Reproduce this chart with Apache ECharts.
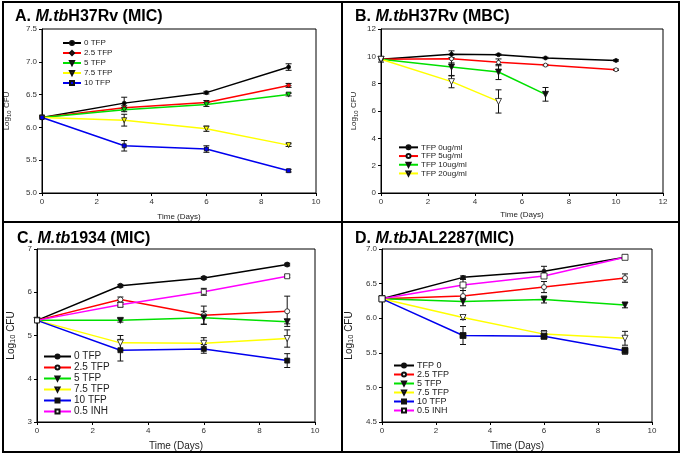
<!DOCTYPE html>
<html>
<head>
<meta charset="utf-8">
<title>TFP kill curves</title>
<script src="https://cdn.jsdelivr.net/npm/echarts@6/dist/echarts.min.js"></script>
<style>
  html, body { margin: 0; padding: 0; background: #fff; }
  #main { width: 683px; height: 456px; }
</style>
</head>
<body>
<div id="main"></div>
<script>
// ---- A. M.tb H37Rv (MIC) ----
var aDays = [0, 3, 6, 9];
var aTfp0 = [6.15, 6.37, 6.53, 6.92];
var aTfp25 = [6.15, 6.30, 6.38, 6.64];
var aTfp5 = [6.15, 6.27, 6.35, 6.50];
var aTfp75 = [6.15, 6.11, 5.98, 5.73];
var aTfp10 = [6.15, 5.72, 5.67, 5.34];
var aErr0 = [0.02, 0.09, 0.02, 0.05];
var aErr25 = [0, 0.03, 0.03, 0.03];
var aErr5 = [0, 0.03, 0.03, 0.02];
var aErr75 = [0, 0.09, 0.04, 0.02];
var aErr10 = [0, 0.08, 0.05, 0.02];

// ---- B. M.tb H37Rv (MBC) ----
var bDays0 = [0, 3, 5, 7, 10];
var bDays10 = [0, 3, 5, 7];
var bDays20 = [0, 3, 5];
var bTfp0 = [9.78, 10.15, 10.12, 9.88, 9.70];
var bTfp5 = [9.78, 9.82, 9.56, 9.36, 9.02];
var bTfp10 = [9.78, 9.22, 8.85, 7.22];
var bTfp20 = [9.78, 8.15, 6.70];
var bErr0 = [0.2, 0.25, 0.05, 0.05, 0.05];
var bErr5 = [0, 0.3, 0.25, 0.05, 0.05];
var bErr10 = [0, 0.65, 0.55, 0.5];
var bErr20 = [0, 0.45, 0.85];

// ---- C. M.tb 1934 (MIC) ----
var cDays = [0, 3, 6, 9];
var cTfp0 = [5.35, 6.15, 6.33, 6.64];
var cTfp25 = [5.35, 5.83, 5.47, 5.56];
var cTfp5 = [5.35, 5.35, 5.41, 5.32];
var cTfp75 = [5.35, 4.83, 4.82, 4.93];
var cTfp10 = [5.35, 4.66, 4.69, 4.42];
var cInh = [5.35, 5.71, 6.01, 6.37];
var cErr0 = [0, 0.03, 0.03, 0.03];
var cErr25 = [0, 0.06, 0.21, 0.35];
var cErr5 = [0, 0.04, 0.15, 0.05];
var cErr75 = [0, 0.17, 0.13, 0.2];
var cErr10 = [0, 0.25, 0.1, 0.16];
var cErrInh = [0, 0.05, 0.08, 0.03];

// ---- D. M.tb JAL2287 (MIC) ----
var dDays = [0, 3, 6, 9];
var dTfp0 = [6.28, 6.59, 6.68, 6.88];
var dTfp25 = [6.28, 6.32, 6.45, 6.58];
var dTfp5 = [6.28, 6.24, 6.27, 6.19];
var dTfp75 = [6.28, 6.01, 5.77, 5.71];
var dTfp10 = [6.28, 5.75, 5.74, 5.53];
var dInh = [6.28, 6.48, 6.61, 6.88];
var dErr0 = [0, 0.02, 0.07, 0.02];
var dErr25 = [0, 0.08, 0.08, 0.06];
var dErr5 = [0, 0.06, 0.05, 0.04];
var dErr75 = [0, 0.03, 0.05, 0.1];
var dErr10 = [0, 0.13, 0.04, 0.05];
var dErrInh = [0, 0.08, 0.03, 0.03];

var BLACK = '#000000', RED = '#ff0000', GREEN = '#00e000', YELLOW = '#ffff00', BLUE = '#0000ee', MAGENTA = '#ff00ff';
var FONT = 'Liberation Sans';

// 线条系列
function line(panel, name, idx, xs, ys, color, sym, fill, rot, size) {
  return {
    type: 'line', name: panel + '|' + name,
    xAxisIndex: idx, yAxisIndex: idx,
    data: xs.map(function (x, i) { return [x, ys[i]]; }),
    symbol: sym, symbolSize: size || 5, symbolRotate: rot || 0,
    showAllSymbol: true,
    lineStyle: { color: color, width: 1.5 },
    itemStyle: { color: fill, borderColor: '#111', borderWidth: 0.8 },
    z: 3
  };
}

// 误差线（自定义系列）
function errBars(idx, xs, ys, es) {
  return {
    type: 'custom', xAxisIndex: idx, yAxisIndex: idx, silent: true, z: 2,
    data: xs.map(function (x, i) { return [x, ys[i], es[i]]; }).filter(function (d) { return d[2] > 0; }),
    renderItem: function (params, api) {
      var x = api.value(0), y = api.value(1), e = api.value(2);
      var hi = api.coord([x, y + e]), lo = api.coord([x, y - e]);
      var st = { stroke: '#111', lineWidth: 1 };
      return { type: 'group', children: [
        { type: 'line', shape: { x1: hi[0], y1: hi[1], x2: lo[0], y2: lo[1] }, style: st },
        { type: 'line', shape: { x1: hi[0] - 3, y1: hi[1], x2: hi[0] + 3, y2: hi[1] }, style: st },
        { type: 'line', shape: { x1: lo[0] - 3, y1: lo[1], x2: lo[0] + 3, y2: lo[1] }, style: st }
      ] };
    }
  };
}

function xAx(idx, max, fs, gap) {
  return {
    type: 'value', gridIndex: idx, min: 0, max: max, interval: 2,
    name: 'Time (Days)', nameLocation: 'middle', nameGap: gap,
    nameTextStyle: { fontFamily: FONT, fontSize: fs, color: '#222' },
    axisLine: { lineStyle: { color: '#000' } },
    axisTick: { inside: false, length: 3, lineStyle: { color: '#000' } },
    axisLabel: { fontFamily: FONT, fontSize: 8, color: '#333', margin: 5 },
    splitLine: { show: false }
  };
}

function yAx(idx, min, max, step, dec, fs, gap) {
  return {
    type: 'value', gridIndex: idx, min: min, max: max, interval: step,
    name: '{a|Log}{s|10}{a| CFU}', nameLocation: 'middle', nameGap: gap,
    nameTextStyle: { rich: {
      a: { fontFamily: FONT, fontSize: fs, color: '#222' },
      s: { fontFamily: FONT, fontSize: fs * 0.75, color: '#222', padding: [fs * 0.45, 0, 0, 0] }
    } },
    axisLine: { lineStyle: { color: '#000' } },
    axisTick: { inside: false, length: 3, lineStyle: { color: '#000' } },
    axisLabel: { fontFamily: FONT, fontSize: 8, color: '#333', margin: 5,
      formatter: function (v) { return v.toFixed(dec); } },
    splitLine: { show: false }
  };
}

// 图例：行高 lh 决定条目间距
function legend(panel, names, left, top, lh, w, fs) {
  return {
    orient: 'vertical', left: left, top: top, padding: 0,
    itemWidth: w, itemHeight: 5, itemGap: 0,
    data: names.map(function (n) { return panel + '|' + n; }),
    formatter: function (n) { return n.split('|')[1]; },
    textStyle: { fontFamily: FONT, fontSize: fs, color: '#222', lineHeight: lh, height: lh, padding: [0, 0, 0, -2] },
    selectedMode: false
  };
}

function title(lbl, strain, left, top, fs) {
  return {
    text: '{b|' + lbl + ' }{i|M.tb}{b|' + strain + '}', left: left, top: top, padding: 0,
    textStyle: { rich: {
      b: { fontFamily: FONT, fontWeight: 'bold', fontSize: fs, color: '#000' },
      i: { fontFamily: FONT, fontWeight: 'bold', fontStyle: 'italic', fontSize: fs, color: '#000' }
    } }
  };
}

var aNames = ['0 TFP', '2.5 TFP', '5 TFP', '7.5 TFP', '10 TFP'];
var bNames = ['TFP 0ug/ml', 'TFP 5ug/ml', 'TFP 10ug/ml', 'TFP 20ug/ml'];
var cNames = ['0 TFP', '2.5 TFP', '5 TFP', '7.5 TFP', '10 TFP', '0.5 INH'];
var dNames = ['TFP 0', '2.5 TFP', '5 TFP', '7.5 TFP', '10 TFP', '0.5 INH'];

var series = [
  line('A', aNames[0], 0, aDays, aTfp0, BLACK, 'circle', BLACK, 0, 4),
  line('A', aNames[1], 0, aDays, aTfp25, RED, 'diamond', RED, 0, 5),
  line('A', aNames[2], 0, aDays, aTfp5, GREEN, 'triangle', GREEN, 180, 5),
  line('A', aNames[3], 0, aDays, aTfp75, YELLOW, 'triangle', YELLOW, 180, 5),
  line('A', aNames[4], 0, aDays, aTfp10, BLUE, 'rect', BLUE, 0, 4),
  errBars(0, aDays, aTfp0, aErr0), errBars(0, aDays, aTfp25, aErr25), errBars(0, aDays, aTfp5, aErr5),
  errBars(0, aDays, aTfp75, aErr75), errBars(0, aDays, aTfp10, aErr10),

  line('B', bNames[0], 1, bDays0, bTfp0, BLACK, 'circle', BLACK, 0, 4),
  line('B', bNames[1], 1, bDays0, bTfp5, RED, 'circle', '#fff', 0, 4),
  line('B', bNames[2], 1, bDays10, bTfp10, GREEN, 'triangle', '#111', 180, 6),
  line('B', bNames[3], 1, bDays20, bTfp20, YELLOW, 'triangle', '#fff', 180, 6),
  errBars(1, bDays0, bTfp0, bErr0), errBars(1, bDays0, bTfp5, bErr5),
  errBars(1, bDays10, bTfp10, bErr10), errBars(1, bDays20, bTfp20, bErr20),

  line('C', cNames[0], 2, cDays, cTfp0, BLACK, 'circle', '#111', 0, 5),
  line('C', cNames[1], 2, cDays, cTfp25, RED, 'circle', '#fff', 0, 5),
  line('C', cNames[2], 2, cDays, cTfp5, GREEN, 'triangle', '#111', 180, 6),
  line('C', cNames[3], 2, cDays, cTfp75, YELLOW, 'triangle', '#fff', 180, 6),
  line('C', cNames[4], 2, cDays, cTfp10, BLUE, 'rect', '#111', 0, 5),
  line('C', cNames[5], 2, cDays, cInh, MAGENTA, 'rect', '#fff', 0, 5),
  errBars(2, cDays, cTfp0, cErr0), errBars(2, cDays, cTfp25, cErr25), errBars(2, cDays, cTfp5, cErr5),
  errBars(2, cDays, cTfp75, cErr75), errBars(2, cDays, cTfp10, cErr10), errBars(2, cDays, cInh, cErrInh),

  line('D', dNames[0], 3, dDays, dTfp0, BLACK, 'circle', '#111', 0, 4),
  line('D', dNames[1], 3, dDays, dTfp25, RED, 'circle', '#fff', 0, 5),
  line('D', dNames[2], 3, dDays, dTfp5, GREEN, 'triangle', '#111', 180, 6),
  line('D', dNames[3], 3, dDays, dTfp75, YELLOW, 'triangle', '#fff', 180, 6),
  line('D', dNames[4], 3, dDays, dTfp10, BLUE, 'rect', '#111', 0, 6),
  line('D', dNames[5], 3, dDays, dInh, MAGENTA, 'rect', '#fff', 0, 6),
  errBars(3, dDays, dTfp0, dErr0), errBars(3, dDays, dTfp25, dErr25), errBars(3, dDays, dTfp5, dErr5),
  errBars(3, dDays, dTfp75, dErr75), errBars(3, dDays, dTfp10, dErr10), errBars(3, dDays, dInh, dErrInh)
];

var chart = echarts.init(document.getElementById('main'), null, { renderer: 'canvas' });
chart.setOption({
  backgroundColor: '#fff',
  animation: false,
  title: [
    title('A.', 'H37Rv (MIC)', 15, 9, 16),
    title('B.', 'H37Rv (MBC)', 355, 9, 16),
    title('C.', '1934 (MIC)', 17, 231, 16),
    title('D.', 'JAL2287(MIC)', 355, 231, 16)
  ],
  grid: [
    { left: 42, top: 29, width: 274, height: 164, show: true, borderColor: '#000', borderWidth: 1 },
    { left: 381, top: 29, width: 282, height: 164, show: true, borderColor: '#000', borderWidth: 1 },
    { left: 37, top: 249, width: 278, height: 173, show: true, borderColor: '#000', borderWidth: 1 },
    { left: 382, top: 249, width: 270, height: 173, show: true, borderColor: '#000', borderWidth: 1 }
  ],
  xAxis: [xAx(0, 10, 8, 20), xAx(1, 12, 8, 18), xAx(2, 10, 10, 19), xAx(3, 10, 10, 19)],
  yAxis: [
    yAx(0, 5, 7.5, 0.5, 1, 8, 30),
    yAx(1, 0, 12, 2, 0, 8, 22),
    yAx(2, 3, 7, 1, 0, 10, 20),
    yAx(3, 4.5, 7, 0.5, 1, 10, 27)
  ],
  legend: [
    legend('A', aNames, 62, 38, 10, 18, 8),
    legend('B', bNames, 398, 143, 8.7, 19, 8),
    legend('C', cNames, 43, 351, 11, 27, 10),
    legend('D', dNames, 393, 361, 8.8, 20, 9)
  ],
  graphic: [
    { type: 'rect', shape: { x: 3, y: 2, width: 676, height: 450 }, style: { fill: 'none', stroke: '#000', lineWidth: 2 }, silent: true },
    { type: 'line', shape: { x1: 342, y1: 2, x2: 342, y2: 452 }, style: { stroke: '#000', lineWidth: 2 }, silent: true },
    { type: 'line', shape: { x1: 3, y1: 222, x2: 679, y2: 222 }, style: { stroke: '#000', lineWidth: 2 }, silent: true }
  ],
  series: series
});
</script>
</body>
</html>
